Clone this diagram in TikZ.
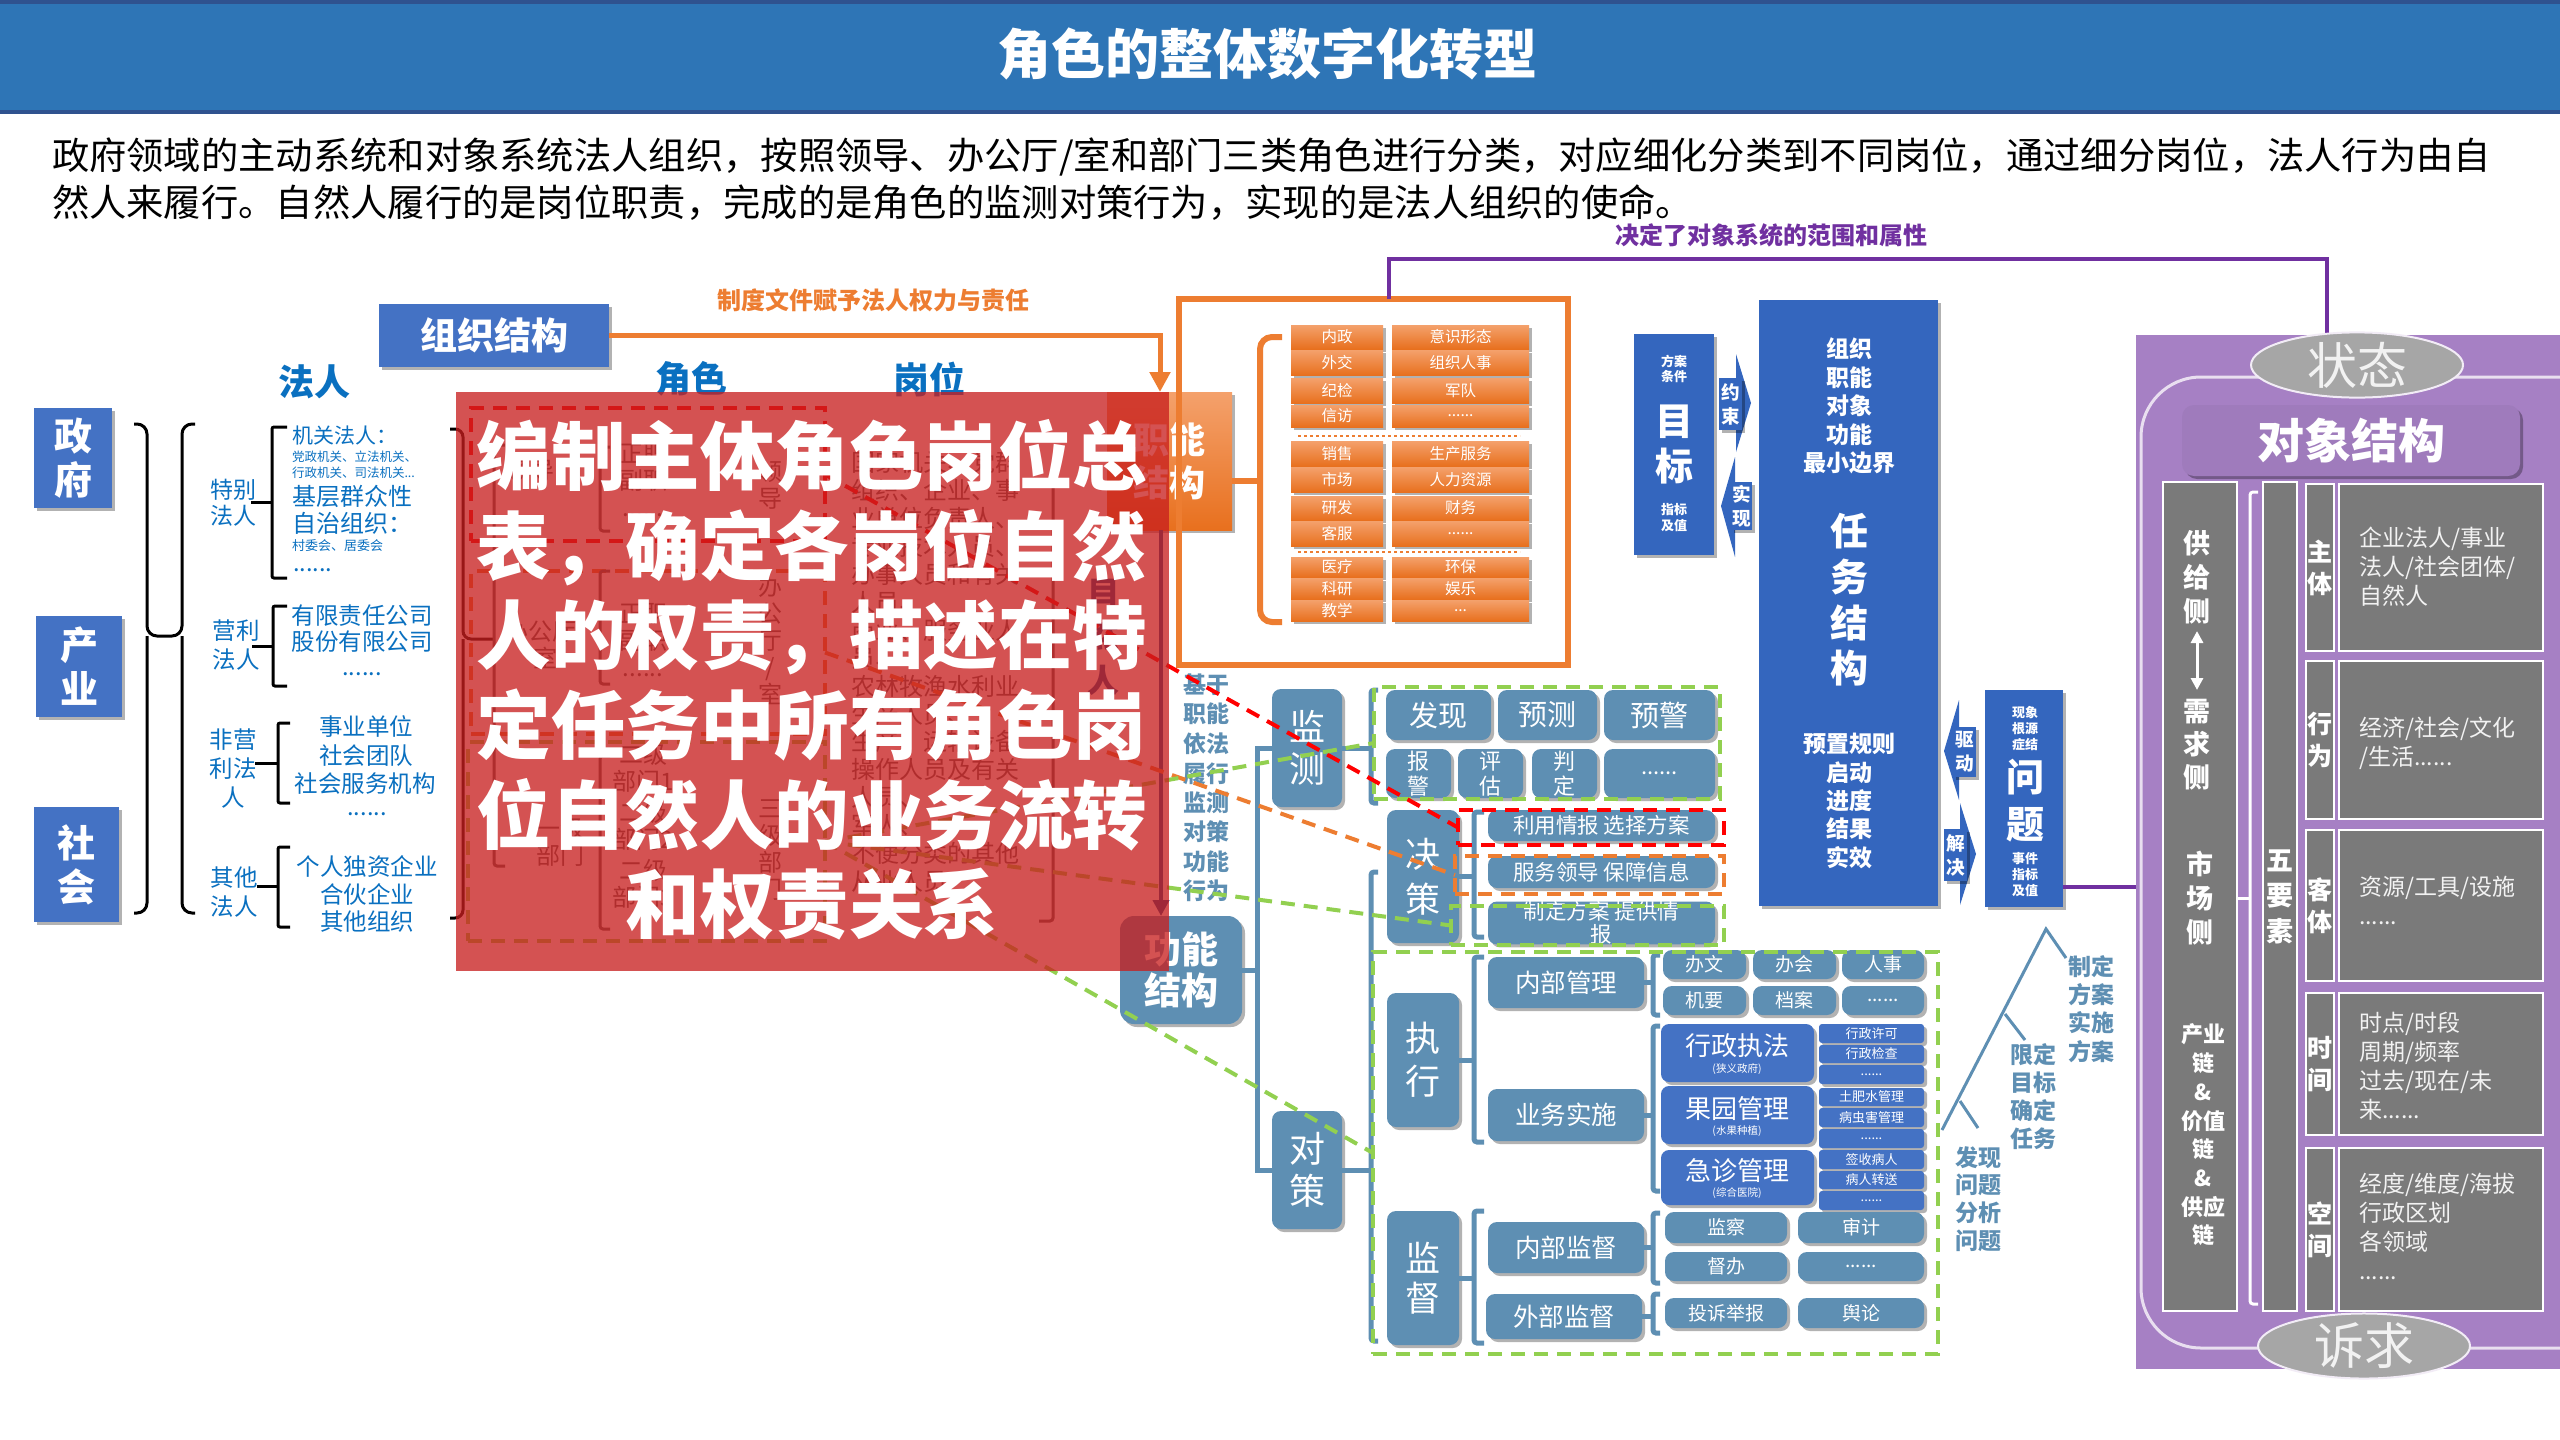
\documentclass[tikz,border=0pt]{standalone}
\usepackage{fontspec}
\setmainfont{Noto Sans CJK SC}
\usetikzlibrary{arrows.meta,shapes.geometric,shadows}
\newcommand\fs[2]{\fontsize{#1pt}{#2pt}\selectfont}
\newcommand\ddd{......}
\newcommand\dthree{...}
\newcommand\mkbox[7]{\pgfmathsetmacro\rcx{(#3+#5)/2}\pgfmathsetmacro\rcy{(#4+#6)/2}\pgfmathsetmacro\rw{#5-#3}\pgfmathsetmacro\rh{#6-#4}\node[#1,minimum width=\rw pt,minimum height=\rh pt] (#2) at (\rcx,\rcy) {#7};}
\definecolor{titleblue}{HTML}{2E75B6}
\definecolor{titledark}{HTML}{2F528F}
\definecolor{objblue}{HTML}{4472C4}
\definecolor{txtblue}{HTML}{0A70C0}
\definecolor{orng}{HTML}{ED7D31}
\definecolor{orngL}{HTML}{F4A16C}
\definecolor{orngD}{HTML}{E8701E}
\definecolor{steel}{HTML}{5E8FB3}
\definecolor{taskblue}{HTML}{3466BE}
\definecolor{purp}{HTML}{7030A0}
\definecolor{lav}{HTML}{A680C4}
\definecolor{grayb}{HTML}{7A7A7A}
\definecolor{grn}{HTML}{92D050}
\definecolor{ovr}{RGB}{200,30,30}
\definecolor{ellg}{HTML}{A6A6A6}
\definecolor{dkb}{HTML}{1A4A8F}
\definecolor{faint}{HTML}{606060}
\pgfdeclarelayer{bg}\pgfdeclarelayer{ovl}\pgfdeclarelayer{fg}
\pgfsetlayers{bg,main,ovl,fg}
\tikzset{
 every node/.style={inner sep=0pt,outer sep=0pt,align=center},
 shd/.style={drop shadow={shadow xshift=3pt,shadow yshift=-3pt,opacity=0.3,fill=black}},
 objb/.style={fill=objblue,text=white,font=\fs{38}{44}\bfseries,shd},
 hd/.style={text=txtblue,font=\fs{36}{40}\bfseries},
 lbl/.style={text=txtblue,font=\fs{23.5}{29}},
 brk/.style={line width=3pt,draw=black,rounded corners=6pt},
 orb/.style={top color=orngL,bottom color=orngD,text=white,font=\fs{15.5}{18},shd},
 stb/.style={fill=steel,text=white,rounded corners=9pt,shd},
 stl/.style={draw=steel,line width=5pt},
 tb/.style={fill=taskblue,text=white,shd},
 bb/.style={fill=objblue,text=white,rounded corners=8pt,shd},
 gbx/.style={fill=grayb,draw=white,line width=1.5pt,text=white},
 gtx/.style={text=white!95!black,font=\fs{23}{29}},
 dsh/.style={line width=4pt,dash pattern=on 14pt off 9pt},
 ftx/.style={text=faint,font=\fs{24}{27}},
}
\begin{document}
\begin{tikzpicture}[x=1pt,y=-1pt]
\useasboundingbox (0,0) rectangle (2560,1440);
\fill[white] (0,0) rectangle (2560,1440);

% ---------- title ----------
\mkbox{fill=titleblue}{tbar}{0}{0}{2560}{114}{}
\draw[titledark,line width=4pt] (0,2) -- (2560,2) (0,112) -- (2560,112);
\node[text=white,font=\fs{54}{60}\bfseries] (ttl) at (1267,54) {角色的整体数字化转型};
\node[anchor=west,font=\fs{37.3}{46}] (p1) at (52,157) {政府领域的主动系统和对象系统法人组织，按照领导、办公厅/室和部门三类角色进行分类，对应细化分类到不同岗位，通过细分岗位，法人行为由自};
\node[anchor=west,font=\fs{37.3}{46}] (p2) at (52,203) {然人来履行。自然人履行的是岗位职责，完成的是角色的监测对策行为，实现的是法人组织的使命。};

% ---------- left: organisation ----------
\mkbox{objb,font=\fs{37}{40}\bfseries}{zzjg}{379}{304}{609}{367}{组织结构}
\node[hd] (fr) at (314,382) {法人};
\node[hd] (js) at (691,379) {角色};
\node[hd] (gw) at (929,379) {岗位};
\mkbox{objb}{zf}{34}{408}{112}{508}{政\\府}
\mkbox{objb}{cy}{36}{616}{122}{717}{产\\业}
\mkbox{objb}{shh}{34}{807}{119}{922}{社\\会}

\draw[brk,rounded corners=10pt] (134,424) -- (147,424) -- (147,636) -- (182,636) -- (182,424) -- (195,424);
\draw[brk,rounded corners=10pt] (134,913) -- (147,913) -- (147,636);
\draw[brk,rounded corners=10pt] (182,636) -- (182,913) -- (195,913);

\draw[brk,rounded corners=2pt] (287,427) -- (272,427) -- (272,578) -- (287,578);
\draw[brk] (251,502) -- (272,502);
\draw[brk,rounded corners=2pt] (287,606) -- (273,606) -- (273,686) -- (287,686);
\draw[brk] (252,646) -- (273,646);
\draw[brk,rounded corners=2pt] (290,723) -- (278,723) -- (278,803) -- (290,803);
\draw[brk] (255,763) -- (278,763);
\draw[brk,rounded corners=2pt] (290,847) -- (278,847) -- (278,927) -- (290,927);
\draw[brk] (257,886) -- (278,886);

\node[lbl,font=\fs{23}{26}] (tb1) at (233,503) {特别\\法人};
\node[lbl] (yl1) at (236,645) {营利\\法人};
\node[lbl] (fy1) at (233,769) {非营\\利法\\人};
\node[lbl] (qt1) at (234,892) {其他\\法人};

\node[lbl,anchor=west,font=\fs{21}{24}] (i1) at (292,436) {机关法人：};
\node[lbl,anchor=west,font=\fs{12.5}{14}] (i2) at (292,457) {党政机关、立法机关、};
\node[lbl,anchor=west,font=\fs{12.5}{14}] (i3) at (292,473) {行政机关、司法机关...};
\node[lbl,anchor=west,font=\fs{24}{27}] (i4) at (292,496) {基层群众性};
\node[lbl,anchor=west,font=\fs{24}{27}] (i5) at (292,523) {自治组织：};
\node[lbl,anchor=west,font=\fs{13}{15}] (i6) at (292,546) {村委会、居委会};
\node[lbl,anchor=west] (i7) at (293,570) {\ddd};
\node[lbl] (i8) at (362,616) {有限责任公司};
\node[lbl] (i9) at (362,642) {股份有限公司};
\node[lbl] (i10) at (362,674) {\ddd};
\node[lbl] (i11) at (366,727) {事业单位};
\node[lbl] (i12) at (366,756) {社会团队};
\node[lbl] (i13) at (365,784) {社会服务机构};
\node[lbl] (i14) at (367,814) {\ddd};
\node[lbl] (i15) at (367,866) {个人独资企业};
\node[lbl] (i16) at (367,894) {合伙企业};
\node[lbl] (i17) at (367,922) {其他组织};

\draw[brk,rounded corners=8pt] (450,429) -- (463,429) -- (463,639) -- (494,639);
\draw[brk,rounded corners=8pt] (450,918) -- (463,918) -- (463,639);

% faint content below the red overlay
\mkbox{draw=red,dsh}{rA}{471}{408}{825}{541}{}
\mkbox{draw=orng,dsh}{rB}{471}{571}{825}{734}{}
\mkbox{draw=grn,dsh}{rC}{468}{742}{825}{941}{}
\draw[brk,draw=faint,rounded corners=3pt] (505,445) -- (494,445) -- (494,866) -- (505,866);
\draw[brk,draw=faint,rounded corners=3pt] (610,447) -- (600,447) -- (600,531) -- (610,531);
\draw[brk,draw=faint,rounded corners=3pt] (610,571) -- (600,571) -- (600,684) -- (610,684);
\draw[brk,draw=faint,rounded corners=3pt] (610,756) -- (600,756) -- (600,929) -- (610,929);
\draw[brk,draw=faint,rounded corners=3pt] (1039,483) -- (1053,483) -- (1053,921) -- (1039,921);
\node[ftx] (f1) at (530,470) {领导};
\node[ftx] (f2) at (545,645) {办公厅/\\室};
\node[ftx] (f3) at (560,842) {一级\\部门};
\node[ftx] (f4) at (643,480) {正职\\副职\\\ddd};
\node[ftx] (f5) at (643,640) {正职\\副职\\\ddd};
\node[ftx] (f6) at (643,768) {二级\\部门1};
\node[ftx] (f7) at (643,826) {二级\\部门2};
\node[ftx] (f8) at (643,884) {二级\\部门3};
\node[ftx] (f9) at (770,485) {领\\导};
\node[ftx] (f10) at (770,640) {办\\公\\厅\\/\\室};
\node[ftx] (f11) at (770,850) {三\\级\\部\\门};
\node[ftx,anchor=west,align=left,font=\fs{24}{27.9}] (f12) at (851,672) {国家机关、党群\\组织、企业、事\\业单位负责人、\\专业技术人员、\\办事人员和有关\\人员、\\商业、服务业人\\员、\\农林牧渔水利业\\生产人员、\\生产、运输设备\\操作人员及有关\\人员、\\军人、\\不便分类的其他\\从业人员};
\node[text=dkb,font=\fs{32}{45}\bfseries] (f13) at (1103,635) {自\\然\\人};

% ---------- function (orange) ----------
\mkbox{top color=orngL,bottom color=orngD,text=white,font=\fs{36}{43}\bfseries,shd}{znjg}{1107}{392}{1232}{530}{职能\\结构}
\mkbox{draw=orng,line width=6pt}{orf}{1179}{299}{1568}{665}{}
\draw[orng,line width=6pt] ([yshift=-20pt]znjg.east) -- ++(28,0);
\draw[orng,line width=6pt,rounded corners=12pt] (1282,337) -- (1260,337) -- (1260,622) -- (1282,622);
\foreach \n/\a/\b/\l/\r in {1/325/349/内政/意识形态,2/350/375/外交/组织人事,3/378/403/纪检/军队,4/405/427/信访/\ddd,5/441/466/销售/生产服务,6/467/492/市场/人力资源,7/496/520/研发/财务,8/521/546/客服/\ddd,9/557/577/医疗/环保,10/578/599/科研/娱乐,11/600/621/教学/\dthree}{
 \mkbox{orb}{ol\n}{1291}{\a}{1383}{\b}{\l}
 \mkbox{orb}{orr\n}{1392}{\a}{1529}{\b}{\r}
}
\draw[orng,line width=2pt,dashed] (1298,436) -- (1520,436) (1298,552) -- (1520,552);

% frame and arrows
\coordinate (fl) at (82,0);
\coordinate (fr2) at (1165,0);
\coordinate (oa) at (1160,0);
\coordinate (da) at (1161,0);
\node[text=orng,font=\fs{24}{28}\bfseries] (zdl) at (873,300) {制度文件赋予法人权力与责任};

% ---------- 功能结构 ----------
\node[text=steel,font=\fs{23}{29.5}\bfseries] (jy) at (1206,788) {基于\\职能\\依法\\履行\\监测\\对策\\功能\\行为};
\mkbox{stb,rounded corners=14pt,font=\fs{37}{41}\bfseries}{gnjg}{1120}{916}{1242}{1024}{功能\\结构}
\begin{pgfonlayer}{bg}
\draw[objblue,line width=4pt] (zzjg.west) -- (zzjg.west -| fl) -- (gnjg.west -| fl) -- (gnjg.west);
\draw[objblue,line width=4pt] (zzjg.east) -- (zzjg.east -| fr2) -- (znjg.north -| fr2);
\end{pgfonlayer}
\draw[orng,line width=5pt,-{Triangle[length=20pt,width=20pt]}] (zzjg.east) -- (zzjg.east -| oa) -- (znjg.north -| oa);
\draw[dkb,line width=4pt,-{Triangle[length=16pt,width=16pt]}] (znjg.south -| da) -- (gnjg.north -| da);
\mkbox{stb,font=\fs{36}{42}}{jc}{1272}{689}{1342}{807}{监\\测}
\mkbox{stb,font=\fs{36}{42}}{dc}{1272}{1111}{1342}{1229}{对\\策}
\coordinate (b1) at (1257,0);
\draw[stl] (gnjg.east) -- (gnjg.east -| b1);
\draw[stl] (jc.west) -- (jc.west -| b1) -- (dc.west -| b1) -- (dc.west);
\begin{pgfonlayer}{bg}
\draw[steel,line width=6pt] (1354,676) -- (1729,676) -- (1729,928) -- (1935,928) -- (1935,1353) -- (1354,1353) -- cycle;
\draw[objblue,line width=4pt] (1614,292) -- (2012,292) -- (2012,652) -- (2121,652) -- (2121,921) -- (1744,921) -- (1744,660) -- (1614,660) -- cycle;
\end{pgfonlayer}
\coordinate (b2) at (1371,0);
\draw[stl] (jc.east) -- (jc.east -| b2);
\draw[stl,rounded corners=3pt] (1378,690) -- (1371,690) -- (1371,803) -- (1378,803);
\draw[stl] (dc.east) -- (dc.east -| b2);
\draw[stl,rounded corners=3pt] (1378,872) -- (1371,872) -- (1371,1341) -- (1378,1341);

% monitoring items
\mkbox{stb,font=\fs{29}{32}}{fx}{1386}{690}{1491}{740}{发现}
\mkbox{stb,font=\fs{29}{32}}{yc}{1498}{690}{1597}{740}{预测}
\mkbox{stb,font=\fs{29}{32}}{yj}{1604}{690}{1715}{740}{预警}
\mkbox{stb,font=\fs{22}{25}}{bj}{1386}{749}{1451}{798}{报\\警}
\mkbox{stb,font=\fs{22}{25}}{pg}{1458}{749}{1523}{798}{评\\估}
\mkbox{stb,font=\fs{22}{25}}{pd}{1532}{749}{1597}{798}{判\\定}
\mkbox{stb,font=\fs{22}{25}}{md}{1604}{749}{1715}{798}{\ddd}
\mkbox{draw=grn,dsh}{jcg}{1374}{687}{1720}{799}{}

% decision
\mkbox{stb,font=\fs{35}{45}}{jc2}{1387}{810}{1459}{943}{决\\策}
\coordinate (b3) at (1474,0);
\draw[stl] (jc2.east) -- (jc2.east -| b3);
\draw[stl,rounded corners=3pt] (1484,812) -- (1474,812) -- (1474,937) -- (1484,937);
\mkbox{stb,font=\fs{21.5}{23}}{d1}{1488}{810}{1715}{841}{利用情报 选择方案}
\mkbox{stb,font=\fs{21.5}{23}}{d2}{1488}{856}{1715}{888}{服务领导 保障信息}
\mkbox{stb,font=\fs{21.5}{23}}{d3}{1488}{903}{1715}{943}{制定方案 提供情\\报}
\mkbox{draw=red,dsh}{dR}{1458}{810}{1724}{845}{}
\mkbox{draw=orng,dsh}{dO}{1455}{856}{1724}{894}{}
\mkbox{draw=grn,dsh}{dG}{1451}{906}{1724}{945}{}

% execution
\mkbox{stb,font=\fs{35}{43}}{zx}{1387}{993}{1459}{1127}{执\\行}
\draw[stl] (zx.east) -- (zx.east -| b3);
\draw[stl,rounded corners=3pt] (1484,957) -- (1474,957) -- (1474,1142) -- (1484,1142);
\mkbox{stb,font=\fs{25.5}{28}}{nbgl}{1488}{957}{1644}{1008}{内部管理}
\mkbox{stb,font=\fs{25.5}{28}}{ywss}{1488}{1089}{1644}{1141}{业务实施}
\coordinate (b4) at (1653,0);
\draw[stl] (nbgl.east) -- (nbgl.east -| b4);
\draw[stl,rounded corners=3pt] (1660,955) -- (1653,955) -- (1653,1015) -- (1660,1015);
\draw[stl] (ywss.east) -- (ywss.east -| b4);
\draw[stl,rounded corners=3pt] (1660,1026) -- (1653,1026) -- (1653,1191) -- (1660,1191);
\mkbox{stb,font=\fs{19}{21}}{bw}{1663}{950}{1746}{979}{办文}
\mkbox{stb,font=\fs{19}{21}}{bh}{1753}{950}{1836}{979}{办会}
\mkbox{stb,font=\fs{19}{21}}{rs}{1842}{950}{1924}{979}{人事}
\mkbox{stb,font=\fs{19}{21}}{jy2}{1663}{986}{1746}{1015}{机要}
\mkbox{stb,font=\fs{19}{21}}{da2}{1753}{986}{1836}{1015}{档案}
\mkbox{stb,font=\fs{19}{21}}{md2}{1842}{986}{1924}{1015}{\ddd}
\mkbox{bb}{xz}{1661}{1024}{1814}{1082}{}
\mkbox{bb}{gy}{1661}{1086}{1814}{1144}{}
\mkbox{bb}{jz}{1661}{1150}{1814}{1205}{}
\node[text=white,font=\fs{26}{28}] (xz1) at (1737,1046) {行政执法};
\node[text=white,font=\fs{10.5}{12}] (xz2) at (1737,1069) {(狭义政府)};
\node[text=white,font=\fs{26}{28}] (gy1) at (1737,1109) {果园管理};
\node[text=white,font=\fs{10.5}{12}] (gy2) at (1737,1131) {(水果种植)};
\node[text=white,font=\fs{26}{28}] (jz1) at (1737,1171) {急诊管理};
\node[text=white,font=\fs{10.5}{12}] (jz2) at (1737,1193) {(综合医院)};
\foreach \n/\a/\b/\t in {1/1024/1043/行政许可,2/1045/1063/行政检查,3/1065/1084/\ddd,4/1088/1106/土肥水管理,5/1108/1127/病虫害管理,6/1129/1148/\ddd,7/1150/1169/签收病人,8/1171/1189/病人转送,9/1191/1210/\ddd}{
 \mkbox{bb,rounded corners=3pt,font=\fs{13}{15}}{sm\n}{1819}{\a}{1924}{\b}{\t}
}

% supervision
\mkbox{stb,font=\fs{35}{40}}{jd}{1387}{1211}{1459}{1345}{监\\督}
\draw[stl] (jd.east) -- (jd.east -| b3);
\draw[stl,rounded corners=3pt] (1484,1211) -- (1474,1211) -- (1474,1343) -- (1484,1343);
\mkbox{stb,font=\fs{25.5}{28}}{nbjd}{1488}{1222}{1644}{1273}{内部监督}
\mkbox{stb,font=\fs{25.5}{28}}{wbjd}{1486}{1294}{1642}{1339}{外部监督}
\draw[stl] (nbjd.east) -- (nbjd.east -| b4);
\draw[stl,rounded corners=3pt] (1660,1213) -- (1653,1213) -- (1653,1283) -- (1660,1283);
\draw[stl] (wbjd.east) -- (wbjd.east -| b4);
\draw[stl,rounded corners=3pt] (1660,1294) -- (1653,1294) -- (1653,1333) -- (1660,1333);
\mkbox{stb,font=\fs{19}{21}}{jch}{1665}{1212}{1787}{1243}{监察}
\mkbox{stb,font=\fs{19}{21}}{sj}{1798}{1212}{1924}{1243}{审计}
\mkbox{stb,font=\fs{19}{21}}{db}{1665}{1252}{1787}{1281}{督办}
\mkbox{stb,font=\fs{19}{21}}{md3}{1798}{1252}{1924}{1281}{\ddd}
\mkbox{stb,font=\fs{19}{21}}{ts}{1665}{1298}{1787}{1328}{投诉举报}
\mkbox{stb,font=\fs{19}{21}}{yl}{1798}{1298}{1924}{1328}{舆论}
\mkbox{draw=grn,dsh}{zxg}{1373}{952}{1938}{1354}{}

% dashed connectors
\draw[red,dsh] (rA.east) -- (dR.west);
\draw[orng,dsh] (rB.east) -- (dO.west);
\draw[grn,dsh] (rC.east) -- (jcg.west);
\draw[grn,dsh] (rC.east) -- (dG.west);
\draw[grn,dsh] (rC.east) -- (zxg.west);

% ---------- task structure ----------
\mkbox{tb}{rwjg}{1759}{300}{1938}{906}{}
\node[text=white,font=\fs{23}{28.5}\bfseries] (rw1) at (1849,406) {组织\\职能\\对象\\功能\\最小边界};
\node[text=white,font=\fs{38}{45.7}\bfseries] (rw2) at (1849,600) {任\\务\\结\\构};
\node[text=white,font=\fs{23}{28.3}\bfseries] (rw3) at (1849,801) {预置规则\\启动\\进度\\结果\\实效};
\mkbox{tb}{mb}{1634}{334}{1714}{555}{}
\node[text=white,font=\fs{13}{15}\bfseries] (mb1) at (1674,369) {方案\\条件};
\node[text=white,font=\fs{38}{45}\bfseries] (mb2) at (1674,445) {目\\标};
\node[text=white,font=\fs{13}{16}\bfseries] (mb3) at (1674,518) {指标\\及值};
\fill[taskblue] (1736,354) -- (1751,403) -- (1736,452) -- cycle;
\mkbox{tb,font=\fs{18.6}{24}\bfseries}{ys}{1719}{378}{1742}{430}{约\\束}
\fill[taskblue] (1735,457) -- (1721,506) -- (1735,557) -- cycle;
\mkbox{tb,font=\fs{18.6}{24}\bfseries}{sx}{1731}{482}{1752}{530}{实\\现}
\mkbox{tb}{wt}{1985}{690}{2063}{907}{}
\node[text=white,font=\fs{13}{16}\bfseries] (wt1) at (2025,729) {现象\\根源\\症结};
\node[text=white,font=\fs{38}{47}\bfseries] (wt2) at (2025,801) {问\\题};
\node[text=white,font=\fs{13}{16}\bfseries] (wt3) at (2025,875) {事件\\指标\\及值};
\fill[taskblue] (1959,700) -- (1944,751) -- (1959,800) -- cycle;
\mkbox{tb,font=\fs{18.6}{24}\bfseries}{qd}{1953}{727}{1976}{777}{驱\\动}
\fill[taskblue] (1960,803) -- (1976,854) -- (1960,905) -- cycle;
\mkbox{tb,font=\fs{18.6}{24}\bfseries}{jj}{1944}{829}{1967}{881}{解\\决}

% right labels
\node[text=steel,font=\fs{23}{28.3}\bfseries] (l1) at (2091,1009) {制定\\方案\\实施\\方案};
\node[text=steel,font=\fs{23}{28}\bfseries] (l2) at (2033,1097) {限定\\目标\\确定\\任务};
\node[text=steel,font=\fs{23}{27.7}\bfseries] (l3) at (1978,1199) {发现\\问题\\分析\\问题};
\draw[steel,line width=3pt] (1942,1130) -- (2046,929) -- (2066,958);
\draw[steel,line width=3pt] (2005,1014) -- (2025,1040);
\draw[steel,line width=3pt] (1960,1101) -- (1978,1128);

% ---------- object structure ----------
\mkbox{fill=lav}{objs}{2136}{335}{2560}{1369}{}
\draw[purp,line width=4pt] ([xshift=15.5pt]orf.north) -- ++(0,-40) -| ([xshift=-21pt]objs.north);
\node[text=purp,font=\fs{24}{28}\bfseries] (jdl) at (1771,235) {决定了对象系统的范围和属性};
\draw[purp,line width=4pt] ([yshift=-88pt]wt.east) -- ([yshift=-88pt]wt.east -| objs.west);
\draw[white!75!lav,line width=3pt,rounded corners=60pt] (2141,377) rectangle (2640,1348);
\node[ellipse,fill=ellg,draw=white!85!lav,line width=2pt,minimum width=212pt,minimum height=57pt,text=white!95!black,font=\fs{50}{55}] (zt) at (2357,365) {状态};
\node[ellipse,fill=ellg,draw=white!85!lav,line width=2pt,minimum width=212pt,minimum height=60pt,text=white!95!black,font=\fs{50}{55}] (sq) at (2364,1346) {诉求};
\mkbox{fill=lav!96!black,rounded corners=12pt,text=white,font=\fs{47}{50}\bfseries,shd}{dxjg}{2182}{405}{2520}{476}{对象结构}
\mkbox{gbx}{gj}{2163}{482}{2237}{1311}{}
\node[text=white,font=\fs{27}{34}\bfseries] (gj1) at (2197,577) {供\\给\\侧};
\draw[white,line width=3pt,{Triangle[length=12pt,width=12pt]}-{Triangle[length=12pt,width=12pt]}] (2197,631) -- (2197,690);
\node[text=white,font=\fs{27}{33}\bfseries] (gj2) at (2197,745) {需\\求\\侧};
\node[text=white,font=\fs{27}{34}\bfseries] (gj3) at (2200,898) {市\\场\\侧};
\node[text=white,font=\fs{22}{28.7}\bfseries] (gj4) at (2203,1135) {产业\\链\\\&\\价值\\链\\\&\\供应\\链};
\draw[white,line width=3pt,rounded corners=3pt] (2258,492) -- (2250,492) -- (2250,1304) -- (2258,1304);
\coordinate (wk) at (2250,898);
\draw[white,line width=3pt] (gj.east |- wk) -- (wk);
\mkbox{gbx,font=\fs{27}{35.5}\bfseries}{wys}{2263}{482}{2297}{1311}{五\\要\\素}
\foreach \n/\a/\b/\t in {1/484/651/主\\体,2/661/819/行\\为,3/830/981/客\\体,4/993/1135/时\\间,5/1148/1311/空\\间}{
 \mkbox{gbx,font=\fs{25}{32}\bfseries}{ky\n}{2306}{\a}{2334}{\b}{\t}
 \mkbox{gbx}{kd\n}{2339}{\a}{2543}{\b}{}
}
\node[gtx,anchor=west,align=left] (t1) at (2359,567) {企业法人/事业\\法人/社会团体/\\自然人};
\node[gtx,anchor=west,align=left] (t2) at (2359,743) {经济/社会/文化\\/生活\ddd};
\node[gtx,anchor=west,align=left] (t3) at (2359,900) {资源/工具/设施\\\ddd};
\node[gtx,anchor=west,align=left] (t4) at (2359,1066) {时点/时段\\周期/频率\\过去/现在/未\\来\ddd};
\node[gtx,anchor=west,align=left] (t5) at (2359,1226) {经度/维度/海拔\\行政区划\\各领域\\\ddd};

% ---------- red overlay ----------
\begin{pgfonlayer}{ovl}
\fill[ovr,opacity=0.77] (456,392) rectangle (1169,971);
\end{pgfonlayer}
\begin{pgfonlayer}{fg}
\node[text=white,font=\fs{74.5}{89.6}\bfseries] (big) at (812,680) {编制主体角色岗位总\\表，确定各岗位自然\\人的权责，描述在特\\定任务中所有角色岗\\位自然人的业务流转\\和权责关系};
\end{pgfonlayer}
\end{tikzpicture}
\end{document}
